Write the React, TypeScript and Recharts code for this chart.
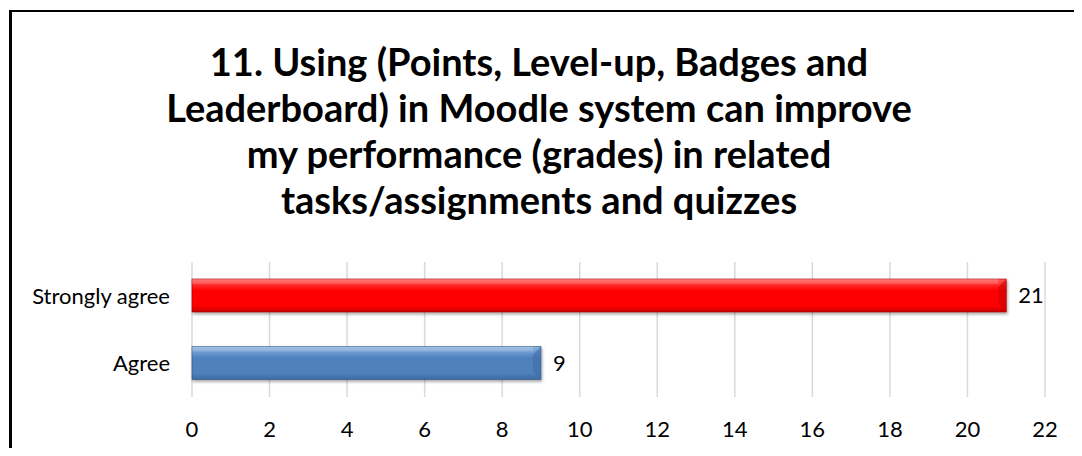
import { BarChart, Bar, XAxis, YAxis, CartesianGrid, LabelList, Cell } from "recharts";

const categories = ["Strongly agree", "Agree"];
const counts = [21, 9];
const xTicks = [0, 2, 4, 6, 8, 10, 12, 14, 16, 18, 20, 22];
const titleLines = [
  "11. Using (Points, Level-up, Badges and",
  "Leaderboard) in Moodle system can improve",
  "my performance (grades) in related",
  "tasks/assignments and quizzes",
];

const BAR_COLORS = [
  { id: "gradRed", top: "#ff5a5a", mid: "#ff0000", bottom: "#c80000", edge: "#a00000" },
  { id: "gradBlue", top: "#8db4e3", mid: "#4f81bd", bottom: "#3c6aa4", edge: "#2a4f7f" },
];

const FONT = "Lato, 'Open Sans', sans-serif";

const data = categories.map((name, i) => ({ name, value: counts[i] }));

function BevelBar(props: any) {
  const { x, y, width, height, index } = props;
  const c = BAR_COLORS[index] || BAR_COLORS[0];
  const b = Math.min(8, height / 4, width / 2);
  return (
    <g filter="url(#barShadow)">
      <rect x={x} y={y} width={width} height={height} fill={`url(#${c.id})`} stroke={c.edge} strokeWidth={0.6} />
      <polygon
        points={`${x + width - b},${y + b} ${x + width},${y} ${x + width},${y + height} ${x + width - b},${y + height - b}`}
        fill={c.bottom}
        opacity={0.55}
      />
      <rect x={x} y={y} width={width - b} height={b * 0.6} fill="#ffffff" opacity={0.18} />
    </g>
  );
}

export default function App() {
  return (
    <div style={{ position: "relative", width: 1082, height: 456, margin: -8, overflow: "hidden", background: "#fff" }}>
      <div
        style={{
          position: "absolute",
          left: 9,
          top: 10,
          width: 1100,
          height: 500,
          borderLeft: "3px solid #000",
          borderTop: "2px solid #000",
        }}
      />
      <div
        style={{
          position: "absolute",
          left: 0,
          top: 38,
          width: 1078,
          textAlign: "center",
          fontFamily: FONT,
          fontWeight: 700,
          fontSize: 38,
          lineHeight: "46px",
          color: "#000",
        }}
      >
        {titleLines.map((t) => (
          <div key={t}>{t}</div>
        ))}
      </div>
      <div style={{ position: "absolute", left: 0, top: 0 }}>
        <BarChart
          width={1082}
          height={456}
          data={data}
          layout="vertical"
          margin={{ top: 262, right: 37, bottom: 0, left: 0 }}
        >
          <defs>
            {BAR_COLORS.map((c) => (
              <linearGradient key={c.id} id={c.id} x1="0" y1="0" x2="0" y2="1">
                <stop offset="0%" stopColor={c.top} />
                <stop offset="35%" stopColor={c.mid} />
                <stop offset="80%" stopColor={c.mid} />
                <stop offset="100%" stopColor={c.bottom} />
              </linearGradient>
            ))}
            <filter id="barShadow" x="-5%" y="-20%" width="110%" height="160%">
              <feDropShadow dx="1" dy="2" stdDeviation="1.5" floodColor="#000" floodOpacity="0.35" />
            </filter>
          </defs>
          <CartesianGrid horizontal={false} stroke="#d9d9d9" strokeWidth={1.5} />
          <XAxis
            type="number"
            domain={[0, 22]}
            ticks={xTicks}
            interval={0}
            axisLine={false}
            tickLine={false}
            tickSize={0}
            tickMargin={24}
            height={59}
            tick={{ fill: "#000", fontSize: 22, fontFamily: FONT }}
          />
          <YAxis
            type="category"
            dataKey="name"
            width={192}
            axisLine={false}
            tickLine={false}
            tickSize={0}
            tickMargin={22}
            tick={{ fill: "#000", fontSize: 22, fontFamily: FONT }}
          />
          <Bar dataKey="value" barSize={33} isAnimationActive={false} shape={<BevelBar />}>
            {data.map((d, i) => (
              <Cell key={d.name} fill={BAR_COLORS[i].mid} />
            ))}
            <LabelList dataKey="value" position="right" offset={12} fill="#000" fontSize={22} fontFamily={FONT} />
          </Bar>
        </BarChart>
      </div>
    </div>
  );
}
